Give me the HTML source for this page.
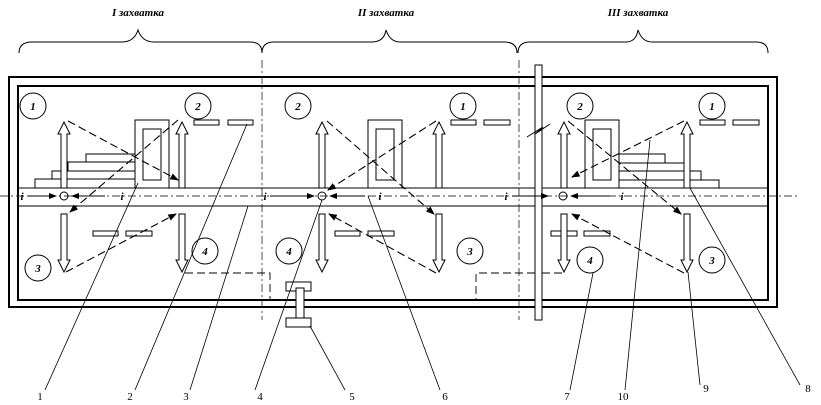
<!DOCTYPE html><html><head><meta charset="utf-8"><style>body{margin:0;background:#fff}svg{display:block}</style></head><body>
<svg width="821" height="405" viewBox="0 0 821 405" xmlns="http://www.w3.org/2000/svg" font-family="Liberation Serif, serif">
<defs>
<marker id="ah" markerWidth="8" markerHeight="6" refX="7" refY="3" orient="auto"><path d="M0,0L8,3L0,6z" fill="#000"/></marker>
<g id="up"><path d="M-3,66V12H-6L0,0L6,12H3V66Z" fill="#fff" stroke="#000" stroke-width="1"/></g>
<g id="dn"><path d="M-3,0V46H-6L0,58L6,46H3V0Z" fill="#fff" stroke="#000" stroke-width="1"/></g>
</defs>
<g font-style="italic" font-weight="bold" font-size="11" text-anchor="middle">
<text x="138" y="16">I захватка</text><text x="386" y="16">II захватка</text><text x="638" y="16">III захватка</text></g>
<g fill="none" stroke="#000" stroke-width="1">
<path d="M19,53Q19,42 32,42H122Q134,42 138,30Q142,42 154,42H250Q262,42 262,53"/>
<path d="M262,53Q262,42 274,42H372Q384,42 386,30Q390,42 400,42H504Q517,42 517,53"/>
<path d="M518,53Q518,42 530,42H626Q636,42 638,30Q642,42 652,42H756Q768,42 768,53"/>
<rect x="9" y="77" width="768" height="230" stroke-width="2"/>
<rect x="18" y="86" width="750" height="214" stroke-width="2"/>
<line x1="18" y1="188" x2="768" y2="188"/><line x1="18" y1="206" x2="768" y2="206"/>
<line x1="0" y1="196" x2="800" y2="196" stroke-dasharray="8,3,2,3" stroke-width="0.7"/>
<line x1="262" y1="60" x2="262" y2="320" stroke-dasharray="8,3,2,3" stroke-width="0.7"/>
<line x1="519" y1="60" x2="519" y2="320" stroke-dasharray="8,3,2,3" stroke-width="0.7"/>
</g>
<rect x="535" y="65" width="7" height="255" fill="#fff" stroke="#000"/>
<path d="M527,137L543,127L535,134L550,124" fill="none" stroke="#000"/>
<g fill="#fff" stroke="#000">
<!-- section 1 -->
<rect x="35" y="179" width="100" height="9"/><rect x="52" y="171" width="83" height="8"/><rect x="68" y="162" width="67" height="9"/><rect x="86" y="154" width="49" height="8"/>
<rect x="135" y="120" width="34" height="68"/><rect x="143" y="129" width="18" height="51"/>
<rect x="194" y="120" width="25" height="5"/><rect x="228" y="120" width="25" height="5"/>
<rect x="93" y="231" width="25" height="5"/><rect x="126" y="231" width="26" height="5"/>
<!-- section 2 -->
<rect x="368" y="120" width="34" height="68"/><rect x="376" y="129" width="18" height="51"/>
<rect x="451" y="120" width="25" height="5"/><rect x="484" y="120" width="26" height="5"/>
<rect x="335" y="231" width="25" height="5"/><rect x="368" y="231" width="26" height="5"/>
<rect x="286" y="282" width="25" height="9"/><rect x="296" y="288" width="8" height="30"/><rect x="286" y="318" width="25" height="9"/>
<!-- section 3 -->
<rect x="619" y="154" width="46" height="9"/><rect x="619" y="163" width="65" height="8"/><rect x="619" y="171" width="82" height="9"/><rect x="619" y="180" width="100" height="8"/>
<rect x="585" y="120" width="34" height="68"/><rect x="593" y="129" width="18" height="51"/>
<rect x="700" y="120" width="25" height="5"/><rect x="733" y="120" width="26" height="5"/>
<rect x="551" y="231" width="26" height="5"/><rect x="584" y="231" width="26" height="5"/>
</g>
<use href="#up" x="64" y="122"/><use href="#up" x="182" y="122"/><use href="#dn" x="64" y="214"/><use href="#dn" x="182" y="214"/>
<use href="#up" x="322" y="122"/><use href="#up" x="439" y="122"/><use href="#dn" x="322" y="214"/><use href="#dn" x="439" y="214"/>
<use href="#up" x="564" y="122"/><use href="#up" x="687" y="122"/><use href="#dn" x="564" y="214"/><use href="#dn" x="687" y="214"/>
<g fill="none" stroke="#000" stroke-width="1.1" stroke-dasharray="8,4">
<line x1="68" y1="121" x2="178" y2="180" marker-end="url(#ah)"/><line x1="178" y1="120" x2="70" y2="212" marker-end="url(#ah)"/><line x1="66" y1="272" x2="176" y2="214" marker-end="url(#ah)"/>
<line x1="327" y1="121" x2="434" y2="214" marker-end="url(#ah)"/><line x1="436" y1="121" x2="328" y2="190" marker-end="url(#ah)"/><line x1="436" y1="273" x2="329" y2="214" marker-end="url(#ah)"/>
<line x1="568" y1="121" x2="681" y2="214" marker-end="url(#ah)"/><line x1="684" y1="121" x2="572" y2="177" marker-end="url(#ah)"/><line x1="684" y1="273" x2="572" y2="214" marker-end="url(#ah)"/>
<path d="M185,273H270V300" stroke-width="0.9"/><path d="M535,273H476V300" stroke-width="0.9"/><path d="M542,273H564" stroke-width="0.9"/>
</g>
<g fill="none" stroke="#000" stroke-width="1">
<circle cx="64" cy="196" r="4"/><circle cx="322" cy="196" r="4"/><circle cx="563" cy="196" r="4"/>
<circle cx="33" cy="106" r="13"/><circle cx="198" cy="106" r="13"/><circle cx="38" cy="268" r="13"/><circle cx="205" cy="251" r="13"/>
<circle cx="298" cy="106" r="13"/><circle cx="463" cy="106" r="13"/><circle cx="289" cy="251" r="13"/><circle cx="470" cy="251" r="13"/>
<circle cx="580" cy="106" r="13"/><circle cx="712" cy="106" r="13"/><circle cx="590" cy="260" r="13"/><circle cx="712" cy="260" r="13"/>
<line x1="28" y1="196" x2="56" y2="196" marker-end="url(#ah)"/><line x1="105" y1="196" x2="72" y2="196" marker-end="url(#ah)"/>
<line x1="270" y1="196" x2="314" y2="196" marker-end="url(#ah)"/><line x1="365" y1="196" x2="330" y2="196" marker-end="url(#ah)"/>
<line x1="512" y1="196" x2="548" y2="196" marker-end="url(#ah)"/><line x1="610" y1="196" x2="571" y2="196" marker-end="url(#ah)"/>
<g stroke-width="0.8">
<line x1="45" y1="390" x2="138" y2="183"/><line x1="135" y1="390" x2="247" y2="124"/><line x1="190" y1="390" x2="248" y2="206"/>
<line x1="255" y1="390" x2="322" y2="200"/><line x1="345" y1="390" x2="310" y2="326"/><line x1="440" y1="390" x2="368" y2="196"/>
<line x1="570" y1="390" x2="593" y2="273"/><line x1="625" y1="390" x2="650" y2="140"/><line x1="700" y1="385" x2="688" y2="272"/><line x1="800" y1="385" x2="690" y2="188"/>
</g></g>
<g font-style="italic" font-weight="bold" font-size="11" text-anchor="middle">
<text x="33" y="110">1</text><text x="198" y="110">2</text><text x="38" y="272">3</text><text x="205" y="255">4</text>
<text x="298" y="110">2</text><text x="463" y="110">1</text><text x="289" y="255">4</text><text x="470" y="255">3</text>
<text x="580" y="110">2</text><text x="712" y="110">1</text><text x="590" y="264">4</text><text x="712" y="264">3</text>
<text x="22" y="200">i</text><text x="122" y="200">i</text><text x="265" y="200">i</text><text x="380" y="200">i</text><text x="506" y="200">i</text><text x="622" y="200">i</text>
</g>
<g font-size="11" text-anchor="middle">
<text x="40" y="400">1</text><text x="130" y="400">2</text><text x="186" y="400">3</text><text x="260" y="400">4</text><text x="352" y="400">5</text><text x="445" y="400">6</text><text x="567" y="400">7</text><text x="623" y="400">10</text><text x="706" y="392">9</text><text x="808" y="392">8</text>
</g>
</svg>
</body></html>
